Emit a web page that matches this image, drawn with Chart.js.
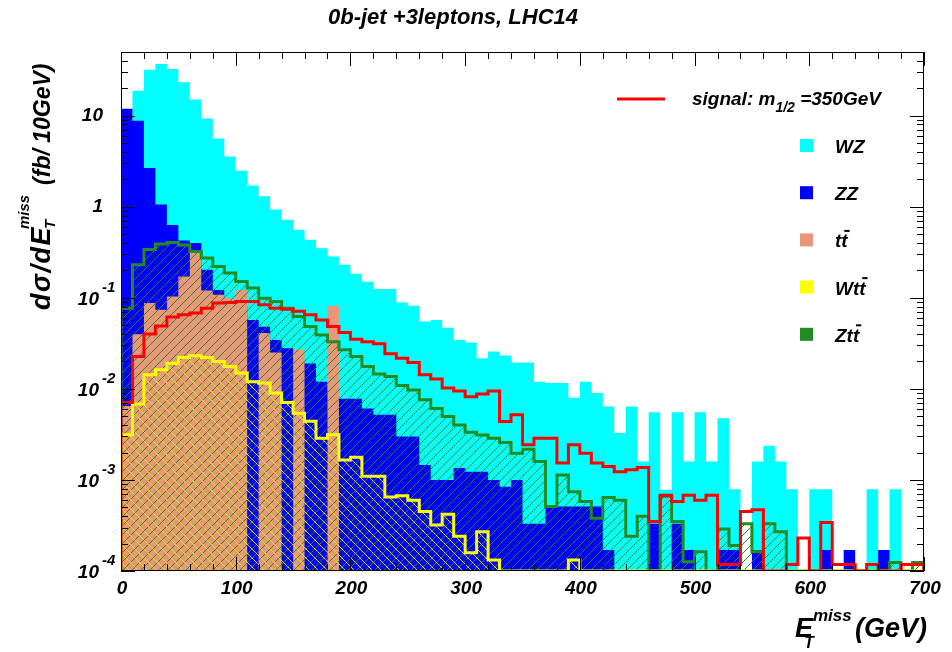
<!DOCTYPE html>
<html>
<head>
<meta charset="utf-8">
<title>0b-jet +3leptons, LHC14</title>
<script src="https://cdn.jsdelivr.net/npm/chart.js@4.4.1/dist/chart.umd.min.js"></script>
<style>
  html, body { margin: 0; padding: 0; background: #fff; }
  #chart { display: block; }
</style>
</head>
<body>
<canvas id="chart" width="952" height="652"></canvas>
<script>
// 70 bins of 10 GeV between 0 and 700 GeV, values in fb / 10 GeV
const binWidth = 10;
const xMin = 0, xMax = 700;
const yMin = 1e-4, yMax = 50;

const xTickValues = [0, 100, 200, 300, 400, 500, 600, 700];
const xTickLabels = ['0', '100', '200', '300', '400', '500', '600', '700'];
const yTickValues = [10, 1, 1e-1, 1e-2, 1e-3, 1e-4];
const yTickBases = ['10', '1', '10', '10', '10', '10'];
const yTickExps = ['', '', '-1', '-2', '-3', '-4'];

const legendLabels = ['signal: m_{1/2} =350GeV', 'WZ', 'ZZ', 'tt\u0304', 'Wtt\u0304', 'Ztt\u0304'];

const wz = [
  8, 18.8, 32, 37, 32.6, 23.2, 15, 9.3, 5.6, 3.57,
  2.49, 1.71, 1.30, 0.93, 0.72, 0.56, 0.434, 0.35, 0.284, 0.23,
  0.184, 0.150, 0.125, 0.125, 0.0887, 0.0816, 0.055, 0.057, 0.047, 0.0345,
  0.0323, 0.0217, 0.0257, 0.0232, 0.0195, 0.0195, 0.0120, 0.0116, 0.0116, 0.0080,
  0.0120, 0.0090, 0.0064, 0.00328, 0.0064, 0.00159, 0.00555, 0.00078, 0.00555, 0.00159,
  0.00555, 0.00159, 0.00476, 0.00079, 0, 0.00159, 0.00238, 0.00159, 0.00079, 0,
  0.00079, 0.00079, 0, 0, 0, 0.00079, 0, 0.00079, 0, 0
];
const zz = [
  11.9, 8.8, 2.66, 1.06, 0.63, 0.425, 0.40, 0.203, 0.122, 0.09,
  0.08, 0.057, 0.048, 0.0345, 0.028, 0.02, 0.019, 0.012, 0.010, 0.0078,
  0.0078, 0.0061, 0.0052, 0.0052, 0.0030, 0.0030, 0.00146, 0.0010, 0.0010, 0.00135,
  0.00123, 0.00123, 0.0010, 0.00084, 0.0010, 0.00033, 0.00033, 0.00051, 0.00051, 0.00051,
  0.00051, 0.00051, 0.00017, 0, 0, 0, 0.00033, 0, 0.00033, 0.00017,
  0, 0, 0.00017, 0.00017, 0, 0.00017, 0, 0, 0, 0,
  0, 0.00017, 0, 0.00017, 0, 0, 0.00017, 0, 0, 0
];
const ttbar = [
  0.0065, 0.0397, 0.0875, 0.074, 0.103, 0.171, 0.31, 0.12, 0.108, 0.099,
  0.122, 0, 0.041, 0.025, 0, 0.027, 0, 0, 0.0816, 0,
  0, 0, 0, 0, 0, 0, 0, 0, 0, 0,
  0, 0, 0, 0, 0, 0, 0, 0, 0, 0,
  0, 0, 0, 0, 0, 0, 0, 0, 0, 0,
  0, 0, 0, 0, 0, 0, 0, 0, 0, 0,
  0, 0, 0, 0, 0, 0, 0, 0, 0, 0
];
const wtt = [
  0.00313, 0.0068, 0.0143, 0.0162, 0.0191, 0.0221, 0.0231, 0.0221, 0.02, 0.0176,
  0.0149, 0.012, 0.0116, 0.009, 0.0071, 0.0054, 0.0044, 0.00287, 0.00313, 0.00166,
  0.00177, 0.0011, 0.0011, 0.00065, 0.00067, 0.0006, 0.00045, 0.00032, 0.00042, 0.00024,
  0.000159, 0.00027, 0.000132, 0, 0, 0, 0, 0, 0, 0.000132,
  0, 0, 0, 0, 0, 0, 0, 0, 0, 0,
  0, 0, 0, 0, 0, 0, 0, 0, 0, 0,
  0, 0, 0, 0, 0, 0, 0, 0, 0, 0
];
const ztt = [
  0.077, 0.23, 0.34, 0.39, 0.405, 0.38, 0.323, 0.273, 0.221, 0.187,
  0.151, 0.128, 0.099, 0.091, 0.077, 0.0624, 0.0484, 0.039, 0.033, 0.0269,
  0.0227, 0.0176, 0.0146, 0.0137, 0.0109, 0.0097, 0.0076, 0.0061, 0.00496, 0.00402,
  0.00334, 0.00312, 0.00287, 0.00257, 0.00196, 0.00217, 0.00159, 0.00051, 0.00113, 0.00074,
  0.00058, 0.00038, 0.00064, 0.0006, 0.00024, 0.0004, 0, 0.00066, 0.00035, 0.000126,
  0.000163, 0, 0.00029, 0.00019, 0.00033, 0.000163, 0.00033, 0.00027, 0, 0,
  0, 0, 0, 0, 0, 0, 0, 0.000124, 0, 0.000124
];
const signal = [
  0.0071, 0.0227, 0.040, 0.049, 0.0614, 0.065, 0.068, 0.077, 0.0875, 0.0887,
  0.091, 0.091, 0.0837, 0.077, 0.075, 0.071, 0.065, 0.057, 0.0484, 0.0416,
  0.0351, 0.033, 0.0313, 0.0243, 0.0217, 0.0195, 0.0143, 0.0128, 0.0102, 0.0095,
  0.0082, 0.0088, 0.0095, 0.00438, 0.0052, 0.00243, 0.00287, 0.00287, 0.00153, 0.00243,
  0.00196, 0.00153, 0.0014, 0.00123, 0.00129, 0.00137, 0.00035, 0.00068, 0.00058, 0.00068,
  0.0006, 0.00068, 0.000118, 0.000118, 0.00045, 0.00047, 0, 0, 0.000118, 0.00023,
  0, 0.00034, 0.000118, 0.000118, 0, 0.000118, 0, 0, 0.000118, 0.000118
];
// red verticals drawn along both frame edges in the original
const signalEdgeTop = 1;

const FONT = '"Liberation Sans", Arial, Helvetica, sans-serif';
const font = (px) => `italic bold ${px}px ${FONT}`;

// histogram outline points (ROOT style: empty bins sit on the axis)
function histPoints(values) {
  const pts = [{ x: xMin, y: yMin }];
  values.forEach((v, i) => pts.push({ x: xMin + i * binWidth, y: Math.max(v, yMin) }));
  const last = values[values.length - 1];
  pts.push({ x: xMin + values.length * binWidth, y: Math.max(last, yMin) });
  pts.push({ x: xMin + values.length * binWidth, y: yMin });
  return pts;
}

function hatch(color, rising) {
  const s = 9;
  const c = document.createElement('canvas');
  c.width = c.height = s;
  const g = c.getContext('2d');
  g.strokeStyle = color;
  g.lineWidth = 1;
  g.beginPath();
  if (rising) {
    g.moveTo(-1, s + 1); g.lineTo(s + 1, -1);
  } else {
    g.moveTo(-1, -1); g.lineTo(s + 1, s + 1);
  }
  g.stroke();
  return g.createPattern(c, 'repeat');
}

const colors = {
  signal: '#ff0000',
  wz: '#00ffff',
  zz: '#0000ff',
  tt: '#e9967a',
  wtt: '#ffff00',
  ztt: '#228b22'
};

// draw a string with _{sub} groups and combining macrons
function richText(ctx, str, x, y, size) {
  const parts = str.split(/(_\{[^}]*\})/);
  let cx = x;
  parts.forEach(p => {
    if (!p) return;
    if (p.startsWith('_{')) {
      const t = p.slice(2, -1);
      ctx.font = font(Math.round(size * 0.72));
      ctx.fillText(t, cx, y + size * 0.35);
      cx += ctx.measureText(t).width;
      return;
    }
    ctx.font = font(size);
    const chars = Array.from(p);
    for (let i = 0; i < chars.length; i++) {
      const ch = chars[i];
      if (ch === '\u0304') continue;
      const w = ctx.measureText(ch).width;
      ctx.fillText(ch, cx, y);
      if (chars[i + 1] === '\u0304') {
        ctx.fillRect(cx + 3, y - size * 0.92, w - 1, 2);
      }
      cx += w;
    }
  });
  return cx;
}

const rootDecor = {
  id: 'rootDecor',
  afterDatasetsDraw(chart) {
    const { ctx, chartArea: a, scales: { x, y } } = chart;
    ctx.save();
    ctx.fillStyle = '#000';
    ctx.strokeStyle = '#000';
    ctx.lineWidth = 1;

    // frame
    ctx.strokeRect(a.left + 0.5, a.top + 0.5, a.right - a.left - 1, a.bottom - a.top - 1);

    // ticks
    ctx.beginPath();
    for (let v = xMin; v <= xMax; v += 20) {
      const px = Math.round(x.getPixelForValue(v)) + 0.5;
      const len = v % 100 === 0 ? 14 : 7;
      ctx.moveTo(px, a.bottom); ctx.lineTo(px, a.bottom - len);
      ctx.moveTo(px, a.top); ctx.lineTo(px, a.top + len);
    }
    for (let e = -4; e <= 1; e++) {
      for (let m = 1; m <= 9; m++) {
        const v = m * Math.pow(10, e);
        if (v > yMax) break;
        const py = Math.round(y.getPixelForValue(v)) + 0.5;
        const len = m === 1 ? 14 : 7;
        ctx.moveTo(a.left, py); ctx.lineTo(a.left + len, py);
        ctx.moveTo(a.right, py); ctx.lineTo(a.right - len, py);
      }
    }
    ctx.stroke();

    // x tick labels
    ctx.font = font(19);
    ctx.textAlign = 'center';
    ctx.textBaseline = 'middle';
    xTickValues.forEach((v, i) => {
      ctx.fillText(xTickLabels[i], x.getPixelForValue(v) + 1, a.bottom + 18);
    });

    // y tick labels
    yTickValues.forEach((v, i) => {
      const py = y.getPixelForValue(v);
      ctx.textBaseline = 'middle';
      if (yTickExps[i]) {
        ctx.font = font(19);
        ctx.textAlign = 'right';
        ctx.fillText(yTickBases[i], 99, py + 2);
        ctx.font = font(15);
        ctx.textAlign = 'left';
        ctx.fillText(yTickExps[i], 102, py - 10);
      } else {
        ctx.font = font(19);
        ctx.textAlign = 'right';
        ctx.fillText(yTickBases[i], 103, py);
      }
    });

    // title
    ctx.font = font(22);
    ctx.textAlign = 'center';
    ctx.textBaseline = 'middle';
    ctx.fillText('0b-jet +3leptons, LHC14', 453, 18);

    // x axis title
    ctx.textAlign = 'left';
    ctx.textBaseline = 'alphabetic';
    ctx.font = font(27);
    ctx.fillText('E', 795, 637);
    ctx.font = font(16);
    ctx.fillText('T', 804, 648);
    ctx.font = font(17);
    ctx.fillText('miss', 813, 621);
    ctx.font = font(27);
    ctx.fillText('(GeV)', 855, 637);

    // y axis title (rotated)
    ctx.save();
    ctx.rotate(-Math.PI / 2);
    ctx.font = font(27);
    ctx.letterSpacing = '1.5px';
    ctx.fillText('d\u03c3/dE', -310, 50);
    const w1 = ctx.measureText('d\u03c3/dE').width;
    ctx.letterSpacing = '0px';
    ctx.font = font(15);
    ctx.fillText('T', -310 + w1 - 3, 55);
    ctx.fillText('miss', -310 + w1 - 3, 29);
    const w2 = ctx.measureText('miss').width;
    ctx.font = font(23);
    ctx.fillText('(fb/ 10GeV)', -310 + w1 + w2 + 7, 50);
    ctx.restore();

    // legend
    const ds = chart.data.datasets.filter(d => d.legendIndex !== undefined)
      .sort((p, q) => p.legendIndex - q.legendIndex);
    ds.forEach((d, i) => {
      const ly = i === 0 ? 99 : 146 + (i - 1) * 47.2;
      if (i === 0) {
        ctx.strokeStyle = d.borderColor;
        ctx.lineWidth = 3;
        ctx.beginPath();
        ctx.moveTo(617, ly); ctx.lineTo(665, ly);
        ctx.stroke();
        ctx.fillStyle = '#000';
        richText(ctx, d.label, 692, ly + 6, 19);
      } else {
        ctx.fillStyle = d.legendColor;
        ctx.fillRect(800, ly - 7, 13, 13);
        ctx.fillStyle = '#000';
        richText(ctx, d.label, 835, ly + 7, 19);
      }
    });
    ctx.restore();
  }
};

const lineBase = { pointRadius: 0, stepped: true, tension: 0 };

new Chart(document.getElementById('chart'), {
  type: 'line',
  data: {
    datasets: [
      {
        ...lineBase, label: 'signal edges',
        data: [
          { x: xMin, y: yMin }, { x: xMin, y: signalEdgeTop }, { x: xMin, y: null },
          { x: xMax, y: signalEdgeTop }, { x: xMax, y: yMin }
        ],
        stepped: false, borderColor: colors.signal, borderWidth: 2, fill: false
      },
      {
        ...lineBase, label: legendLabels[0], legendIndex: 0,
        data: histPoints(signal), borderColor: colors.signal, borderWidth: 3, fill: false
      },
      {
        ...lineBase, label: legendLabels[4], legendIndex: 4, legendColor: colors.wtt,
        data: histPoints(wtt), borderColor: colors.wtt, borderWidth: 3,
        backgroundColor: hatch('#e8e000', false), fill: 'start'
      },
      {
        ...lineBase, label: legendLabels[5], legendIndex: 5, legendColor: colors.ztt,
        data: histPoints(ztt), borderColor: colors.ztt, borderWidth: 3,
        backgroundColor: hatch(colors.ztt, true), fill: 'start'
      },
      {
        ...lineBase, label: legendLabels[3], legendIndex: 3, legendColor: colors.tt,
        data: histPoints(ttbar), borderWidth: 0, borderColor: 'rgba(0,0,0,0)',
        backgroundColor: colors.tt, fill: 'start'
      },
      {
        ...lineBase, label: legendLabels[2], legendIndex: 2, legendColor: colors.zz,
        data: histPoints(zz), borderWidth: 0, borderColor: 'rgba(0,0,0,0)',
        backgroundColor: colors.zz, fill: 'start'
      },
      {
        ...lineBase, label: legendLabels[1], legendIndex: 1, legendColor: colors.wz,
        data: histPoints(wz), borderWidth: 0, borderColor: 'rgba(0,0,0,0)',
        backgroundColor: colors.wz, fill: 'start'
      }
    ]
  },
  options: {
    responsive: false,
    animation: false,
    devicePixelRatio: 1,
    layout: { padding: { left: 121, right: 28, top: 52, bottom: 81 } },
    scales: {
      x: { type: 'linear', min: xMin, max: xMax, display: false },
      y: { type: 'logarithmic', min: yMin, max: yMax, display: false }
    },
    plugins: {
      legend: { display: false },
      tooltip: { enabled: false },
      title: { display: false }
    }
  },
  plugins: [rootDecor]
});
</script>
</body>
</html>
